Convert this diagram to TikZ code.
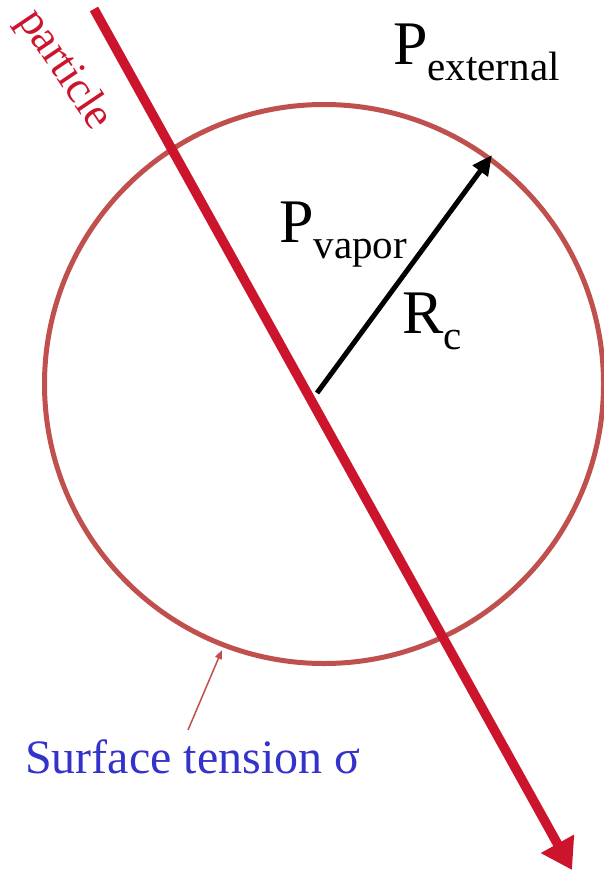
\documentclass[tikz,border=0pt]{standalone}
\usepackage{fontspec}
\setmainfont{Liberation Serif}
\newfontfamily\tms{Liberation Serif}
\usetikzlibrary{arrows.meta}
\definecolor{partred}{RGB}{204,20,45}
\definecolor{bubred}{RGB}{192,80,77}
\definecolor{tblue}{RGB}{51,51,204}
\tikzset{
  lbl/.style={inner sep=0pt}
}
\newcommand{\mysub}[1]{\raisebox{-16pt}{\tms\fontsize{41}{41}\selectfont #1}}
\begin{document}
\begin{tikzpicture}[x=1pt,y=-1pt]
\useasboundingbox (0,0) rectangle (604,872);
% bubble
\coordinate (ctr) at (324,384);
\draw[bubred, line width=5pt] (ctr) circle (279.5);
% radius arrow
\coordinate (rstart) at (317,393);
\coordinate (rim) at (492,155);
\draw[line width=5pt, -{Triangle[length=20pt,width=18pt]}] (rstart) -- (rim);
% particle track
\coordinate (pstart) at (94,9);
\coordinate (pend) at (572,870);
\draw[partred, line width=9.5pt, -{Triangle[length=30pt,width=36pt]}] (pstart) -- (pend);
% labels
\node[lbl, anchor=base west, font=\tms\fontsize{62}{62}\selectfont] (pext) at (393,65) {P\mysub{external}};
\node[lbl, anchor=base west, font=\tms\fontsize{62}{62}\selectfont] (pvap) at (279,242) {P\mysub{vapor}};
\node[lbl, anchor=base west, font=\tms\fontsize{62}{62}\selectfont] (rc) at (402,333) {R\mysub{c}};
\node[lbl, partred, rotate=-56, font=\tms\fontsize{45}{45}\selectfont] (part) at (64,70) {particle};
\node[lbl, tblue, anchor=base west, font=\tms\fontsize{48}{48}\selectfont] (surf) at (25,773) {Surface tension σ};
\coordinate (sfrom) at (188,730);
\coordinate (sto) at (222,650);
\draw[bubred, line width=1.5pt, -{Triangle[length=9pt,width=7pt]}] (sfrom) -- (sto);
\end{tikzpicture}
\end{document}
